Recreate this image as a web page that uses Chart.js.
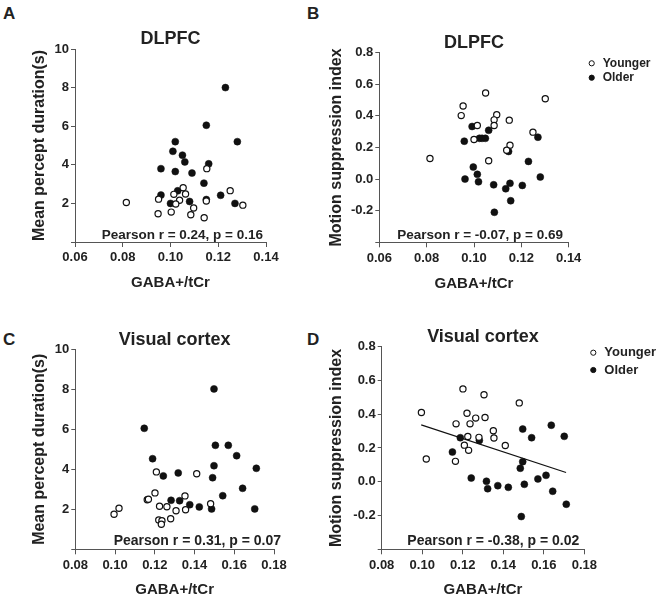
<!DOCTYPE html>
<html>
<head>
<meta charset="utf-8">
<script src="https://cdn.jsdelivr.net/npm/chart.js@4.4.1/dist/chart.umd.min.js"></script>
<style>
  body { margin: 0; background: #fff; width: 660px; height: 598px; position: relative; overflow: hidden;
         font-family: "Liberation Sans", Arial, Helvetica, sans-serif; }
  canvas { position: absolute; }
  .tag { position: absolute; font-weight: bold; font-size: 17px; line-height: 1; color: #222; }
</style>
</head>
<body>
<div class="tag" style="left:3px;top:5px">A</div>
<div class="tag" style="left:307px;top:5px">B</div>
<div class="tag" style="left:3px;top:331px">C</div>
<div class="tag" style="left:307px;top:331px">D</div>
<script>
// ---- data ----
const groupLabels = ['Younger', 'Older'];

// A: DLPFC, mean percept duration
const dlpfcYoungGabaA = [0.0815, 0.095, 0.0948, 0.1003, 0.1014, 0.1053, 0.1063, 0.1038, 0.1022, 0.1097, 0.1085, 0.1141, 0.1152, 0.1150, 0.125, 0.1303];
const dlpfcYoungDur   = [2.05, 2.22, 1.46, 1.55, 2.47, 2.81, 2.49, 2.16, 1.97, 1.76, 1.41, 1.26, 3.8, 2.12, 2.66, 1.91];
const dlpfcOldGabaA   = [0.123, 0.115, 0.102, 0.128, 0.101, 0.105, 0.106, 0.116, 0.096, 0.102, 0.109, 0.114, 0.096, 0.103, 0.121, 0.115, 0.100, 0.108, 0.127];
const dlpfcOldDur     = [8.0, 6.05, 5.2, 5.2, 4.7, 4.5, 4.15, 4.05, 3.8, 3.65, 3.57, 3.05, 2.43, 2.65, 2.42, 2.2, 2.0, 2.1, 2.0];

// B: DLPFC, motion suppression index
const dlpfcYoungGabaB = [0.0814, 0.0946, 0.0954, 0.1000, 0.1014, 0.1049, 0.1062, 0.1096, 0.1085, 0.1085, 0.1149, 0.1152, 0.1138, 0.1249, 0.1301];
const dlpfcYoungMsi   = [0.130, 0.402, 0.463, 0.251, 0.339, 0.545, 0.116, 0.408, 0.375, 0.339, 0.373, 0.215, 0.183, 0.297, 0.509];
const dlpfcOldGabaB   = [0.0992, 0.1062, 0.0959, 0.1023, 0.1034, 0.1048, 0.1270, 0.1146, 0.1230, 0.0997, 0.1014, 0.1019, 0.0962, 0.1083, 0.1134, 0.1152, 0.1204, 0.1280, 0.1155, 0.1086];
const dlpfcOldMsi     = [0.333, 0.309, 0.240, 0.258, 0.258, 0.258, 0.265, 0.175, 0.112, 0.076, 0.030, -0.017, 0.0, -0.036, -0.061, -0.027, -0.040, 0.013, -0.137, -0.210];

// C: visual cortex, mean percept duration
const visYoungGabaC = [0.0995, 0.1020, 0.1162, 0.1168, 0.1201, 0.1208, 0.1224, 0.1220, 0.1236, 0.1233, 0.1261, 0.1280, 0.1307, 0.1352, 0.1355, 0.1411, 0.1481];
const visYoungDur   = [1.75, 2.05, 2.48, 2.50, 2.82, 3.87, 2.15, 1.47, 1.43, 1.25, 2.13, 1.53, 1.93, 2.67, 1.98, 3.78, 2.28];
const visOldGabaC   = [0.1498, 0.1147, 0.1505, 0.1570, 0.1612, 0.1189, 0.1498, 0.1711, 0.1318, 0.1243, 0.1491, 0.1642, 0.1542, 0.1282, 0.1325, 0.1376, 0.1424, 0.1486, 0.1703];
const visOldDur     = [8.02, 6.05, 5.2, 5.2, 4.68, 4.53, 4.18, 4.05, 3.82, 3.67, 3.58, 3.05, 2.68, 2.45, 2.43, 2.23, 2.12, 2.02, 2.02];

// D: visual cortex, motion suppression index
const visYoungGabaD = [0.0996, 0.1020, 0.1201, 0.1305, 0.1479, 0.1221, 0.1264, 0.1310, 0.1167, 0.1236, 0.1351, 0.1225, 0.1280, 0.1354, 0.1208, 0.1229, 0.1410, 0.1164];
const visYoungMsi   = [0.410, 0.135, 0.550, 0.515, 0.467, 0.406, 0.377, 0.381, 0.343, 0.343, 0.302, 0.268, 0.263, 0.259, 0.217, 0.186, 0.215, 0.121];
const visOldGabaD   = [0.1149, 0.1188, 0.1282, 0.1242, 0.1317, 0.1323, 0.1373, 0.1425, 0.1496, 0.1540, 0.1637, 0.1701, 0.1496, 0.1484, 0.1504, 0.1571, 0.1611, 0.1644, 0.1711, 0.1489];
const visOldMsi     = [0.176, 0.261, 0.245, 0.022, 0.003, -0.041, -0.023, -0.033, 0.312, 0.261, 0.335, 0.269, 0.119, 0.080, -0.015, 0.017, 0.038, -0.056, -0.133, -0.206];
const visFitGaba    = [0.0995, 0.171];
const visFitMsi     = [0.337, 0.055];

// axis ticks
const dlpfcGabaTicks = [0.06, 0.08, 0.10, 0.12, 0.14];
const visGabaTicks   = [0.08, 0.10, 0.12, 0.14, 0.16, 0.18];
const durationTicks  = [0, 2, 4, 6, 8, 10];
const msiTicks       = [-0.4, -0.2, 0, 0.2, 0.4, 0.6, 0.8];

const FONT = '"Liberation Sans", Arial, Helvetica, sans-serif';
const INK = '#222';
const AXIS = '#555';
Chart.defaults.font.family = FONT;
Chart.defaults.color = INK;

function pts(xs, ys) { return xs.map((x, i) => ({ x, y: ys[i] })); }

// stats note + small legend drawn after the chart
const extras = {
  id: 'extras',
  afterDraw(chart, args, o) {
    const ctx = chart.ctx, a = chart.chartArea;
    ctx.save();
    ctx.fillStyle = INK;
    ctx.font = 'bold ' + o.noteSize + 'px ' + FONT;
    ctx.textAlign = 'right';
    ctx.textBaseline = 'alphabetic';
    ctx.fillText(o.note, a.right + o.noteDx, a.bottom - o.noteDy);
    if (o.legend) {
      ctx.font = 'bold ' + o.legend.size + 'px ' + FONT;
      ctx.textAlign = 'left';
      ctx.textBaseline = 'middle';
      chart.data.datasets.slice(0, 2).forEach((ds, i) => {
        const x = o.legend.x, y = o.legend.y + i * o.legend.gap;
        ctx.beginPath();
        ctx.arc(x, y, 2.6, 0, Math.PI * 2);
        ctx.fillStyle = ds.pointBackgroundColor;
        ctx.fill();
        ctx.lineWidth = 1;
        ctx.strokeStyle = '#111';
        ctx.stroke();
        ctx.fillStyle = INK;
        ctx.fillText(ds.label, x + 11, y);
      });
    }
    ctx.restore();
  }
};

function panel(p) {
  const [cx, cy, cw, ch] = p.box;
  const a = p.area;
  const cv = document.createElement('canvas');
  cv.width = cw; cv.height = ch;
  cv.style.left = cx + 'px'; cv.style.top = cy + 'px';
  document.body.appendChild(cv);

  const datasets = [
    { label: groupLabels[0], data: pts(p.young[0], p.young[1]),
      pointRadius: 3.1, pointBorderWidth: 1.2, pointBackgroundColor: '#fff', pointBorderColor: '#111' },
    { label: groupLabels[1], data: pts(p.old[0], p.old[1]),
      pointRadius: 3.5, pointBorderWidth: 0.5, pointBackgroundColor: '#111', pointBorderColor: '#111' }
  ];
  if (p.fit) {
    datasets.push({ type: 'line', label: 'fit', data: pts(p.fit[0], p.fit[1]),
      borderColor: '#111', borderWidth: 1.2, pointRadius: 0, fill: false });
  }

  return new Chart(cv, {
    type: 'scatter',
    data: { datasets },
    plugins: [extras],
    options: {
      responsive: false,
      animation: false,
      layout: { autoPadding: false, padding: { left: 0, top: 0, right: cx + cw - a.r, bottom: 0 } },
      plugins: {
        legend: { display: false },
        tooltip: { enabled: false },
        title: {
          display: true, text: p.title, fullSize: false, color: INK,
          font: { size: 18, weight: 'bold', lineHeight: 1 },
          padding: { top: p.titleY - 9 - cy, bottom: a.t - (p.titleY + 9) }
        },
        extras: { note: p.note, noteSize: p.noteSize, noteDx: p.noteDx, noteDy: p.noteDy, legend: p.legend }
      },
      scales: {
        x: {
          type: 'linear',
          min: p.xTicks[0], max: p.xTicks[p.xTicks.length - 1],
          afterBuildTicks: s => { s.ticks = p.xTicks.map(v => ({ value: v })); },
          afterFit: s => { s.height = cy + ch - a.b; },
          grid: { drawOnChartArea: false, drawTicks: true, tickLength: 5, tickColor: AXIS },
          border: { color: AXIS, width: 1 },
          ticks: { font: { size: 13, weight: 'bold' }, padding: 3, maxRotation: 0, autoSkip: false,
                   callback: v => v.toFixed(2) },
          title: { display: true, text: 'GABA+/tCr', font: { size: 15, weight: 'bold', lineHeight: 1.2 },
                   padding: { top: 0, bottom: cy + ch - p.xTitleY - 9 } }
        },
        y: {
          type: 'linear',
          min: p.yTicks[0], max: p.yTicks[p.yTicks.length - 1],
          afterBuildTicks: s => { s.ticks = p.yTicks.map(v => ({ value: v })); },
          afterFit: s => { s.width = a.l - cx; },
          grid: { drawOnChartArea: false, drawTicks: true, tickLength: 4, tickColor: AXIS },
          border: { color: AXIS, width: 1 },
          ticks: { font: { size: 13, weight: 'bold' }, padding: 2, autoSkip: false,
                   callback: v => (v === p.yTicks[0] ? '' : p.yFmt(v)) },
          title: { display: true, text: p.yTitle, font: { size: 16, weight: 'bold', lineHeight: 1.2 },
                   padding: { top: p.yTitleX - cx - 9.6, bottom: 0 } }
        }
      }
    }
  });
}

const durFmt = v => String(v);
const msiFmt = v => v.toFixed(1);

panel({
  box: [0, 0, 330, 300], area: { l: 75, r: 266, t: 49, b: 242 },
  title: 'DLPFC', titleY: 39, xTitleY: 283, yTitleX: 40,
  yTitle: 'Mean percept duration(s)', xTicks: dlpfcGabaTicks, yTicks: durationTicks, yFmt: durFmt,
  young: [dlpfcYoungGabaA, dlpfcYoungDur], old: [dlpfcOldGabaA, dlpfcOldDur],
  note: 'Pearson r = 0.24, p = 0.16', noteSize: 13.5, noteDx: -3, noteDy: 3
});

panel({
  box: [320, 0, 340, 300], area: { l: 379.3, r: 568.7, t: 52.7, b: 242.3 },
  title: 'DLPFC', titleY: 43.5, xTitleY: 283.5, yTitleX: 336.5,
  yTitle: 'Motion suppression index', xTicks: dlpfcGabaTicks, yTicks: msiTicks, yFmt: msiFmt,
  young: [dlpfcYoungGabaB, dlpfcYoungMsi], old: [dlpfcOldGabaB, dlpfcOldMsi],
  note: 'Pearson r = -0.07, p = 0.69', noteSize: 13.5, noteDx: -5.7, noteDy: 3.3,
  legend: { x: 271.7, y: 63.3, gap: 14.4, size: 12 }
});

panel({
  box: [0, 300, 330, 298], area: { l: 75.3, r: 274, t: 349.3, b: 549.3 },
  title: 'Visual cortex', titleY: 340, xTitleY: 590, yTitleX: 40,
  yTitle: 'Mean percept duration(s)', xTicks: visGabaTicks, yTicks: durationTicks, yFmt: durFmt,
  young: [visYoungGabaC, visYoungDur], old: [visOldGabaC, visOldDur],
  note: 'Pearson r = 0.31, p = 0.07', noteSize: 14, noteDx: 7, noteDy: 4.3
});

panel({
  box: [320, 300, 340, 298], area: { l: 381.7, r: 584.3, t: 346.7, b: 549.3 },
  title: 'Visual cortex', titleY: 337.5, xTitleY: 589.7, yTitleX: 336.5,
  yTitle: 'Motion suppression index', xTicks: visGabaTicks, yTicks: msiTicks, yFmt: msiFmt,
  young: [visYoungGabaD, visYoungMsi], old: [visOldGabaD, visOldMsi], fit: [visFitGaba, visFitMsi],
  note: 'Pearson r = -0.38, p = 0.02', noteSize: 14, noteDx: -5, noteDy: 4.3,
  legend: { x: 273.3, y: 52.7, gap: 17.3, size: 13 }
});
</script>
</body>
</html>
